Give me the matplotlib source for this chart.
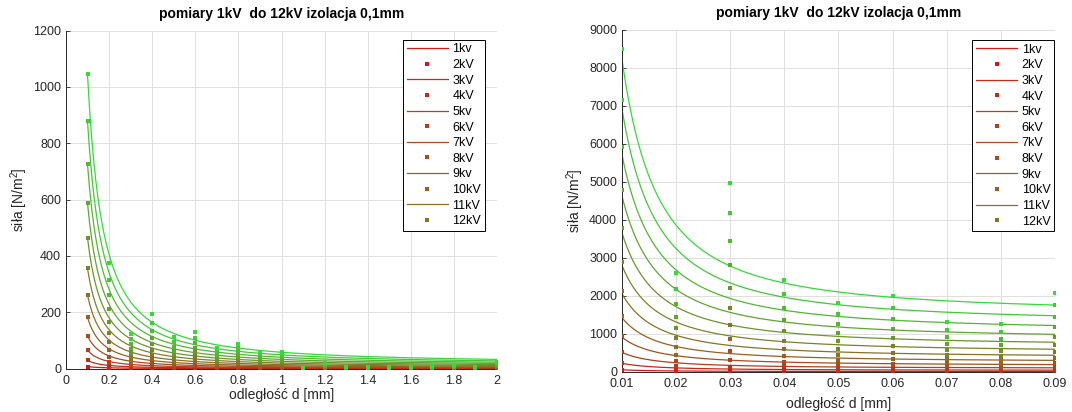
import numpy as np
import matplotlib
matplotlib.use('Agg')
import matplotlib.pyplot as plt

plt.rcParams['font.family'] = ['Liberation Sans', 'DejaVu Sans']
plt.rcParams['mathtext.default'] = 'regular'

# ---------------- data ----------------
series_labels = ['1kv', '2kV', '3kV', '4kV', '5kv', '6kV', '7kV', '8kV', '9kv', '10kV', '11kV', '12kV']
title_text = 'pomiary 1kV  do 12kV izolacja 0,1mm'

# left chart: distances 0.1 .. 2.0 mm
left_d = [0.1, 0.2, 0.3, 0.4, 0.5, 0.6, 0.7, 0.8, 0.9, 1.0,
          1.1, 1.2, 1.3, 1.4, 1.5, 1.6, 1.7, 1.8, 1.9, 2.0]
left_1kV = [7.3, 2.6, 0.9, 1.4, 0.8, 0.9, 0.5, 0.6, 0.4, 0.4, 0.0, 0.1, 0.1, 0.0, 0.0, 0.0, 0.1, 0.1, 0.0, 0.2]
left_2kV = [29, 10.4, 3.4, 5.4, 3.1, 3.6, 2.0, 2.4, 1.7, 1.6, 0.1, 0.5, 0.2, 0.1, 0.1, 0.1, 0.2, 0.4, 0.2, 0.7]
left_3kV = [65.4, 23.5, 7.7, 12.2, 7.0, 8.2, 4.6, 5.4, 3.8, 3.7, 0.2, 1.2, 0.5, 0.3, 0.3, 0.3, 0.5, 0.8, 0.4, 1.5]
left_4kV = [116.3, 41.8, 13.8, 21.6, 12.5, 14.6, 8.2, 9.6, 6.7, 6.6, 0.3, 2.1, 0.8, 0.6, 0.5, 0.6, 0.9, 1.4, 0.6, 2.7]
left_5kV = [181.8, 65.3, 21.5, 33.8, 19.5, 22.8, 12.8, 15.0, 10.5, 10.3, 0.5, 3.3, 1.3, 0.9, 0.8, 0.9, 1.4, 2.3, 1.0, 4.3]
left_6kV = [261.7, 94.0, 31.0, 48.6, 28.1, 32.8, 18.4, 21.6, 15.1, 14.8, 0.7, 4.7, 1.8, 1.3, 1.1, 1.3, 2.0, 3.2, 1.4, 6.1]
left_7kV = [356.2, 127.9, 42.1, 66.2, 38.2, 44.6, 25.0, 29.4, 20.6, 20.1, 1.0, 6.4, 2.5, 1.7, 1.5, 1.7, 2.7, 4.4, 2.0, 8.3]
left_8kV = [465.3, 167.0, 55.0, 86.4, 49.9, 58.2, 32.6, 38.4, 26.9, 26.2, 1.3, 8.3, 3.2, 2.2, 1.9, 2.2, 3.5, 5.8, 2.6, 10.9]
left_9kV = [588.9, 211.4, 69.7, 109.4, 63.2, 73.7, 41.3, 48.6, 34.0, 33.2, 1.6, 10.5, 4.1, 2.8, 2.4, 2.8, 4.5, 7.3, 3.2, 13.8]
left_10kV = [727, 261, 86, 135, 78, 91, 51, 60, 42, 41, 2.0, 13, 5.0, 3.5, 3.0, 3.5, 5.5, 9.0, 4.0, 17]
left_11kV = [879.7, 315.8, 104.1, 163.4, 94.4, 110.1, 61.7, 72.6, 50.8, 49.6, 2.4, 15.7, 6.1, 4.2, 3.6, 4.2, 6.7, 10.9, 4.8, 20.6]
left_12kV = [1046.9, 375.8, 123.8, 194.4, 112.3, 131.0, 73.4, 86.4, 60.5, 59.0, 2.9, 18.7, 7.2, 5.0, 4.3, 5.0, 7.9, 13.0, 5.8, 24.5]

# fitted curves (a * d^-b + c) of the left chart, per series
left_fit_a = [0.283, 1.131, 2.544, 4.522, 7.066, 10.17, 13.85, 18.09, 22.89, 28.26, 34.20, 40.7]
left_fit_b = [1.4] * 12
left_fit_c = [0.12, 0.48, 1.08, 1.92, 3.0, 4.32, 5.89, 7.69, 9.73, 12.01, 14.54, 17.3]

# right chart: distances 0.01 .. 0.09 mm
right_d = [0.01, 0.02, 0.03, 0.04, 0.05, 0.06, 0.07, 0.08, 0.09]
right_1kV = [59, 18, 35, 17, 13, 14, 9, 9, 15]
right_2kV = [236, 72, 138, 68, 50, 56, 37, 35, 58]
right_3kV = [532, 162, 311, 152, 113, 125, 83, 79, 131]
right_4kV = [946, 288, 554, 270, 202, 222, 147, 141, 232]
right_5kV = [1478, 450, 865, 423, 315, 348, 230, 220, 363]
right_6kV = [2128, 648, 1246, 608, 454, 500, 331, 317, 522]
right_7kV = [2896, 882, 1695, 828, 617, 681, 451, 431, 711]
right_8kV = [3782, 1152, 2214, 1082, 806, 890, 589, 563, 928]
right_9kV = [4787, 1458, 2803, 1369, 1021, 1126, 745, 713, 1175]
right_10kV = [5910, 1800, 3460, 1690, 1260, 1390, 920, 880, 1450]
right_11kV = [7151, 2178, 4187, 2045, 1525, 1682, 1113, 1065, 1755]
right_12kV = [8510, 2592, 4982, 2434, 1814, 2002, 1325, 1267, 2088]

# fitted curves (A * (d/0.01)^-b + C) of the right chart, per series
right_fit_a = [46.6, 186.4, 419.5, 745.8, 1165, 1678, 2284, 2983, 3775, 4661, 5640, 6712]
right_fit_b = [1.52] * 12
right_fit_c = [10.6, 42.3, 95.3, 169.3, 264.6, 381, 518.6, 677.3, 857.3, 1058, 1281, 1524]

left_values = [left_1kV, left_2kV, left_3kV, left_4kV, left_5kV, left_6kV,
               left_7kV, left_8kV, left_9kV, left_10kV, left_11kV, left_12kV]
right_values = [right_1kV, right_2kV, right_3kV, right_4kV, right_5kV, right_6kV,
                right_7kV, right_8kV, right_9kV, right_10kV, right_11kV, right_12kV]

left_xticks = [0, 0.2, 0.4, 0.6, 0.8, 1.0, 1.2, 1.4, 1.6, 1.8, 2.0]
left_xticklabels = ['0', '0.2', '0.4', '0.6', '0.8', '1', '1.2', '1.4', '1.6', '1.8', '2']
left_yticks = [0, 200, 400, 600, 800, 1000, 1200]
right_xticks = [0.01, 0.02, 0.03, 0.04, 0.05, 0.06, 0.07, 0.08, 0.09]
right_xticklabels = ['0.01', '0.02', '0.03', '0.04', '0.05', '0.06', '0.07', '0.08', '0.09']
right_yticks = [0, 1000, 2000, 3000, 4000, 5000, 6000, 7000, 8000, 9000]

# ---------------- style ----------------
n = len(series_labels)
c_start = np.array([0.82, 0.10, 0.08])
c_end = np.array([0.20, 0.86, 0.22])
colors = [tuple(c_start + (c_end - c_start) * i / (n - 1)) for i in range(n)]
axis_col = '#262626'

fig = plt.figure(figsize=(10.72, 4.12), dpi=100)
axL = fig.add_axes([0.0616, 0.1053, 0.4020, 0.8204])
axR = fig.add_axes([0.5802, 0.0971, 0.4039, 0.8301])


def draw(ax, d, values, fa, fb, fc, ref):
    handles = []
    dd = np.linspace(min(d), max(d), 400)
    for i in range(n):
        fit = fa[i] * (dd / ref) ** (-fb[i]) + fc[i]
        ln, = ax.plot(dd, fit, '-', color=colors[i], lw=0.9, zorder=2)
        pts, = ax.plot(d, values[i], 's', color=colors[i], ms=2.3, mew=0,
                       linestyle='none', zorder=3)
        handles.extend([ln, pts])
    return handles


def style(ax, xticks, xlabels, yticks, xlim, ylim, xpad):
    ax.set_xlim(*xlim)
    ax.set_ylim(*ylim)
    ax.set_xticks(xticks)
    ax.set_xticklabels(xlabels)
    ax.set_yticks(yticks)
    ax.grid(True, color='#dedede', lw=0.7)
    ax.set_axisbelow(True)
    for s in ['top', 'right']:
        ax.spines[s].set_visible(False)
    for s in ['left', 'bottom']:
        ax.spines[s].set_color(axis_col)
        ax.spines[s].set_linewidth(0.7)
    ax.tick_params(direction='in', length=3, width=0.6, color=axis_col,
                   labelcolor=axis_col, labelsize=9)
    ax.tick_params(axis='x', pad=4.5)
    ax.set_title(title_text, fontsize=10, fontweight='bold', pad=9, color='black')
    ax.set_xlabel('odległość d [mm]', fontsize=10, color=axis_col, labelpad=xpad)
    ax.set_ylabel('siła [N/m$^2$]', fontsize=10, color=axis_col, labelpad=2)


hL = draw(axL, left_d, left_values, left_fit_a, left_fit_b, left_fit_c, 1.0)
hR = draw(axR, right_d, right_values, right_fit_a, right_fit_b, right_fit_c, 0.01)
style(axL, left_xticks, left_xticklabels, left_yticks, (0, 2), (0, 1200), 0.5)
style(axR, right_xticks, right_xticklabels, right_yticks, (0.01, 0.09), (0, 9000), 5)

for ax, h, anchor in [(axL, hL, (0.972, 0.973)), (axR, hR, (0.998, 0.971))]:
    leg = ax.legend(h[:n], series_labels, loc='upper right', bbox_to_anchor=anchor,
                    fontsize=9, frameon=True, fancybox=False, framealpha=1,
                    edgecolor='black', handlelength=3.3, handletextpad=0.35,
                    labelspacing=0.29, borderpad=0.3, borderaxespad=0.0,
                    markerscale=1.0)
    leg.get_frame().set_linewidth(0.7)

fig.savefig('out.png', dpi=100)
